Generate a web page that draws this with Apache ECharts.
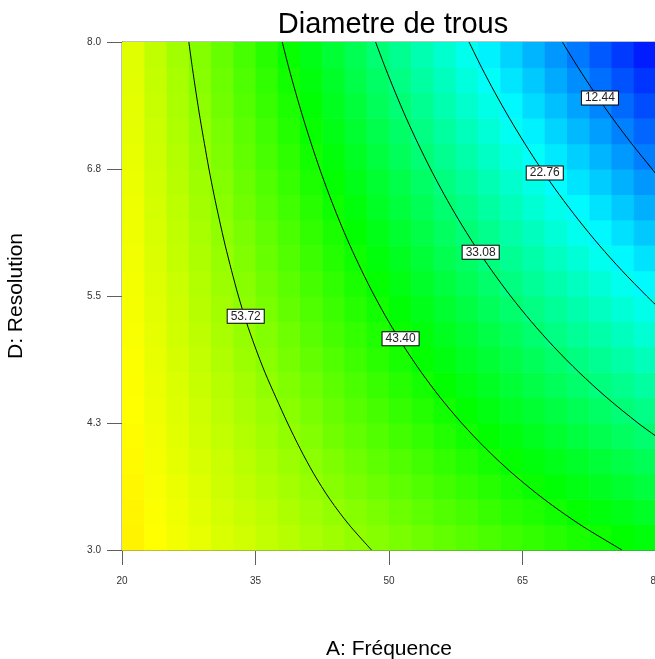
<!DOCTYPE html>
<html>
<head>
<meta charset="utf-8">
<script src="https://cdn.jsdelivr.net/npm/echarts@6/dist/echarts.min.js"></script>
<style>html,body{margin:0;padding:0;background:#fff}#c{width:655px;height:659px}</style>
</head>
<body>
<div id="c"></div>
<script>
// ---- data ----
const chartTitle = 'Diametre de trous';
const xName = 'A: Fréquence';
const yName = 'D: Resolution';
const xTicks = [20, 35, 50, 65, 80];
const yTicks = [3, 4.25, 5.5, 6.75, 8];
const yTickLabels = ['3.0', '4.3', '5.5', '6.8', '8.0'];

// cell centres of the response grid
const freqCenters = [21.25,23.75,26.25,28.75,31.25,33.75,36.25,38.75,41.25,43.75,46.25,48.75,51.25,53.75,56.25,58.75,61.25,63.75,66.25,68.75,71.25,73.75,76.25,78.75];
const resCenters = [3.125,3.375,3.625,3.875,4.125,4.375,4.625,4.875,5.125,5.375,5.625,5.875,6.125,6.375,6.625,6.875,7.125,7.375,7.625,7.875];

// Diametre values, one row per resolution (bottom to top), one entry per frequency
const diameter = [
 [63.4,62.5,61.5,60.6,59.6,58.7,57.7,56.8,55.8,54.9,53.9,52.9,52.0,51.0,50.1,49.1,48.2,47.2,46.3,45.3,44.3,43.4,42.4,41.5],
 [63.3,62.2,61.2,60.2,59.1,58.1,57.1,56.0,55.0,54.0,52.9,51.9,50.9,49.8,48.8,47.8,46.8,45.7,44.7,43.7,42.6,41.6,40.6,39.5],
 [63.1,62.0,60.9,59.8,58.6,57.5,56.4,55.3,54.2,53.1,52.0,50.9,49.8,48.7,47.6,46.4,45.3,44.2,43.1,42.0,40.9,39.8,38.7,37.6],
 [62.9,61.7,60.5,59.3,58.2,57.0,55.8,54.6,53.4,52.2,51.0,49.8,48.7,47.5,46.3,45.1,43.9,42.7,41.5,40.4,39.2,38.0,36.8,35.6],
 [62.7,61.5,60.2,58.9,57.7,56.4,55.1,53.9,52.6,51.3,50.1,48.8,47.6,46.3,45.0,43.8,42.5,41.2,40.0,38.7,37.4,36.2,34.9,33.7],
 [62.5,61.2,59.9,58.5,57.2,55.8,54.5,53.2,51.8,50.5,49.1,47.8,46.5,45.1,43.8,42.4,41.1,39.7,38.4,37.1,35.7,34.4,33.0,31.7],
 [62.3,60.9,59.5,58.1,56.7,55.3,53.8,52.4,51.0,49.6,48.2,46.8,45.3,43.9,42.5,41.1,39.7,38.2,36.8,35.4,34.0,32.6,31.2,29.7],
 [62.2,60.7,59.2,57.7,56.2,54.7,53.2,51.7,50.2,48.7,47.2,45.7,44.2,42.7,41.2,39.7,38.2,36.8,35.3,33.8,32.3,30.8,29.3,27.8],
 [62.0,60.4,58.8,57.3,55.7,54.1,52.6,51.0,49.4,47.8,46.3,44.7,43.1,41.5,40.0,38.4,36.8,35.3,33.7,32.1,30.5,29.0,27.4,25.8],
 [61.8,60.1,58.5,56.8,55.2,53.5,51.9,50.2,48.6,47.0,45.3,43.7,42.0,40.4,38.7,37.1,35.4,33.8,32.1,30.5,28.8,27.2,25.5,23.9],
 [61.6,59.9,58.2,56.4,54.7,53.0,51.3,49.5,47.8,46.1,44.4,42.6,40.9,39.2,37.4,35.7,34.0,32.3,30.5,28.8,27.1,25.4,23.6,21.9],
 [61.4,59.6,57.8,56.0,54.2,52.4,50.6,48.8,47.0,45.2,43.4,41.6,39.8,38.0,36.2,34.4,32.6,30.8,29.0,27.2,25.4,23.6,21.8,20.0],
 [61.2,59.4,57.5,55.6,53.7,51.9,50.0,48.1,46.2,44.3,42.4,40.6,38.7,36.8,34.9,33.0,31.2,29.3,27.4,25.5,23.6,21.8,19.9,18.0],
 [61.1,59.1,57.1,55.2,53.2,51.3,49.3,47.4,45.4,43.4,41.5,39.5,37.6,35.6,33.7,31.7,29.7,27.8,25.8,23.9,21.9,20.0,18.0,16.0],
 [60.9,58.8,56.8,54.8,52.7,50.7,48.7,46.6,44.6,42.6,40.5,38.5,36.5,34.4,32.4,30.4,28.3,26.3,24.3,22.2,20.2,18.2,16.1,14.1],
 [60.7,58.6,56.5,54.4,52.2,50.1,48.0,45.9,43.8,41.7,39.6,37.5,35.4,33.2,31.1,29.0,26.9,24.8,22.7,20.6,18.5,16.4,14.2,12.1],
 [60.5,58.3,56.1,54.0,51.8,49.6,47.4,45.2,43.0,40.8,38.6,36.4,34.3,32.1,29.9,27.7,25.5,23.3,21.1,18.9,16.7,14.6,12.4,10.2],
 [60.3,58.1,55.8,53.5,51.3,49.0,46.7,44.5,42.2,39.9,37.7,35.4,33.1,30.9,28.6,26.3,24.1,21.8,19.5,17.3,15.0,12.8,10.5,8.2],
 [60.1,57.8,55.5,53.1,50.8,48.4,46.1,43.7,41.4,39.1,36.7,34.4,32.0,29.7,27.3,25.0,22.7,20.3,18.0,15.6,13.3,10.9,8.6,6.3],
 [60.0,57.5,55.1,52.7,50.3,47.9,45.4,43.0,40.6,38.2,35.8,33.3,30.9,28.5,26.1,23.7,21.2,18.8,16.4,14.0,11.6,9.1,6.7,4.3]
];

// contour lines [Frequence, Resolution]
const contour5372 = [[27.51,8],[27.90,7.75],[28.32,7.5],[28.77,7.25],[29.26,7],[29.77,6.75],[30.33,6.5],[30.94,6.25],[31.59,6],[32.31,5.75],[33.08,5.5],[33.95,5.25],[34.95,5],[36.05,4.75],[37.3,4.5],[38.6,4.25],[40.0,4],[41.55,3.75],[43.35,3.5],[45.5,3.25],[48.04,3]];
const contour4340 = [[38.00,8],[38.73,7.75],[39.52,7.5],[40.36,7.25],[41.26,7],[42.22,6.75],[43.26,6.5],[44.38,6.25],[45.60,6],[46.93,5.75],[48.37,5.5],[49.95,5.25],[51.70,5],[53.62,4.75],[55.76,4.5],[58.16,4.25],[60.86,4],[63.92,3.75],[67.42,3.5],[71.46,3.25],[76.18,3]];
const contour3308 = [[48.49,8],[49.57,7.75],[50.72,7.5],[51.94,7.25],[53.26,7],[54.67,6.75],[56.19,6.5],[57.83,6.25],[59.61,6],[61.55,5.75],[63.66,5.5],[65.97,5.25],[68.52,5],[71.34,4.75],[74.47,4.5],[77.97,4.25],[80,4.12]];
const contour2276 = [[58.99,8],[60.40,7.75],[61.91,7.5],[63.53,7.25],[65.26,7],[67.11,6.75],[69.11,6.5],[71.28,6.25],[73.62,6],[76.17,5.75],[78.95,5.5],[80,5.41]];
const contour1244 = [[69.48,8],[71.24,7.75],[73.11,7.5],[75.11,7.25],[77.26,7],[79.56,6.75],[80,6.7]];
const contourLines = [contour5372, contour4340, contour3308, contour2276, contour1244];

const contourLabels = ['53.72', '43.40', '33.08', '22.76', '12.44'];
const labelPoints = [[33.9,5.3],[51.3,5.08],[60.3,5.93],[67.5,6.71],[73.7,7.45]];

// ---- chart ----
const cells = [];
for (let j = 0; j < resCenters.length; j++) {
  for (let i = 0; i < freqCenters.length; i++) {
    cells.push([freqCenters[i], resCenters[j], diameter[j][i]]);
  }
}
const halfW = (freqCenters[1] - freqCenters[0]) / 2;
const halfH = (resCenters[1] - resCenters[0]) / 2;

const FONT = '"Liberation Sans", Arial, sans-serif';
const chart = echarts.init(document.getElementById('c'), null, {renderer: 'canvas'});

const series = [{
  type: 'custom',
  data: cells,
  silent: true,
  z: 1,
  renderItem: function (params, api) {
    const x = api.value(0), y = api.value(1);
    const p1 = api.coord([x - halfW, y + halfH]);
    const p2 = api.coord([x + halfW, y - halfH]);
    return {
      type: 'rect',
      shape: {x: p1[0], y: p1[1], width: p2[0] - p1[0] + 0.6, height: p2[1] - p1[1] + 0.6},
      style: {fill: api.visual('color')}
    };
  }
}];
contourLines.forEach(function (pts) {
  series.push({
    type: 'line', data: pts, symbol: 'none', smooth: 0.3, silent: true, z: 3,
    lineStyle: {color: '#000', width: 1}
  });
});
series.push({
  type: 'scatter', z: 5, silent: true, symbolSize: 0,
  itemStyle: {opacity: 1},
  data: labelPoints.map(function (p, k) { return {value: p, name: contourLabels[k]}; }),
  label: {
    show: true, position: 'inside', formatter: '{b}', opacity: 1,
    fontFamily: FONT, fontSize: 12, color: '#222',
    backgroundColor: '#ffffff', borderColor: '#000', borderWidth: 1, padding: [1, 3, 0, 3]
  }
});

chart.setOption({
  animation: false,
  backgroundColor: '#fff',
  title: {
    text: chartTitle, left: 388, top: 5, textAlign: 'center',
    textStyle: {fontFamily: FONT, fontSize: 29, fontWeight: 'normal', color: '#000'}
  },
  grid: {left: 122, top: 42, width: 534, height: 508, show: true, borderColor: '#808080', borderWidth: 1,
         backgroundColor: 'transparent', containLabel: false, outerBoundsMode: 'none'},
  visualMap: {
    show: false, type: 'continuous', seriesIndex: 0, dimension: 2,
    min: 2.12, max: 82.6,
    inRange: {color: ['#0000ff', '#00ffff', '#00ff00', '#ffff00', '#ff0000']}
  },
  xAxis: {
    type: 'value', min: xTicks[0], max: xTicks[xTicks.length - 1], interval: xTicks[1] - xTicks[0],
    name: xName, nameLocation: 'middle', nameGap: 89,
    nameTextStyle: {fontFamily: FONT, fontSize: 21, color: '#000'},
    axisLine: {show: true, lineStyle: {color: '#606060', width: 1}},
    axisTick: {show: true, length: 15, lineStyle: {color: '#606060'}},
    axisLabel: {margin: 26, fontFamily: FONT, fontSize: 10, color: '#333', showMaxLabel: true, hideOverlap: false},
    splitLine: {show: false}
  },
  yAxis: {
    type: 'value', min: yTicks[0], max: yTicks[yTicks.length - 1], interval: yTicks[1] - yTicks[0],
    name: yName, nameLocation: 'middle', nameGap: 95, nameRotate: 90,
    nameTextStyle: {fontFamily: FONT, fontSize: 21, color: '#000'},
    axisLine: {show: true, lineStyle: {color: '#606060', width: 1}},
    axisTick: {show: true, length: 15, lineStyle: {color: '#606060'}},
    axisLabel: {
      margin: 21, fontFamily: FONT, fontSize: 10, color: '#333',
      formatter: function (v) {
        let best = 0;
        for (let k = 1; k < yTicks.length; k++) if (Math.abs(yTicks[k] - v) < Math.abs(yTicks[best] - v)) best = k;
        return yTickLabels[best];
      }
    },
    splitLine: {show: false}
  },
  series: series
});
</script>
</body>
</html>
